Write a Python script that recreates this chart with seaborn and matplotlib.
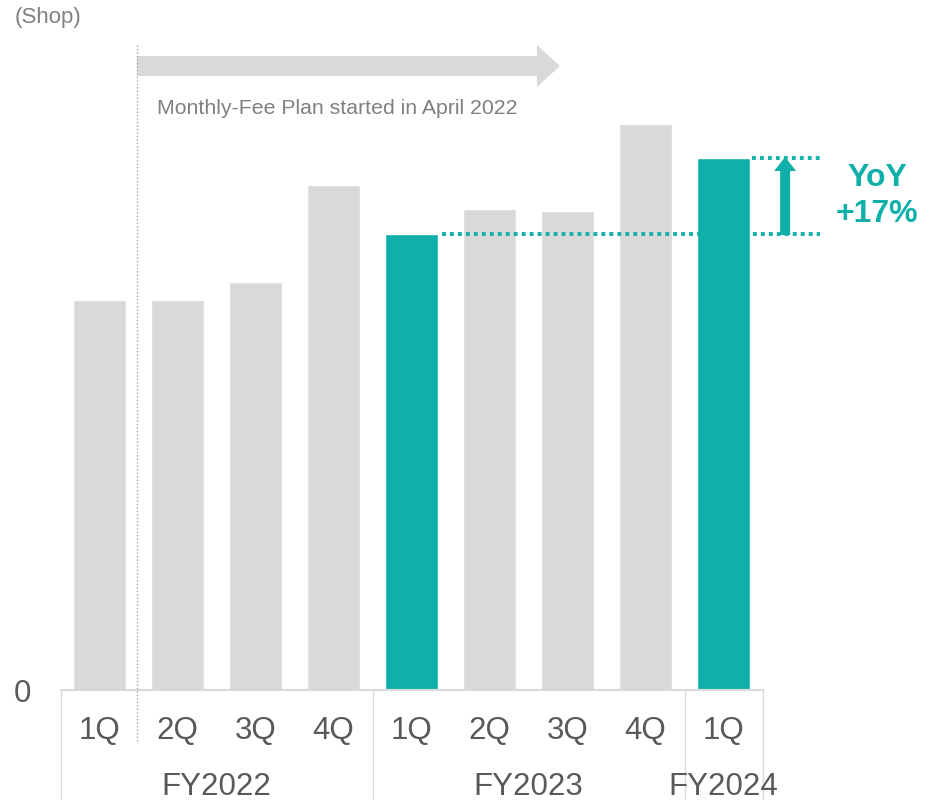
import matplotlib
matplotlib.use("Agg")
import matplotlib.pyplot as plt
import seaborn as sns
import pandas as pd
from matplotlib.patches import Polygon

# ---- data ----
fiscal_years = ["FY2022", "FY2022", "FY2022", "FY2022",
                "FY2023", "FY2023", "FY2023", "FY2023", "FY2024"]
quarters = ["1Q", "2Q", "3Q", "4Q", "1Q", "2Q", "3Q", "4Q", "1Q"]
shops = [390, 390, 408, 505, 456, 481, 479, 566, 532]
highlight = [False, False, False, False, True, False, False, False, True]
fy_labels = ["FY2022", "FY2023", "FY2024"]
yoy_text = "YoY\n+17%"
note_text = "Monthly-Fee Plan started in April 2022"
unit_text = "(Shop)"

GRAY = "#d9d9d9"
TEAL = "#10b0aa"
TXT = "#595959"

sns.set_theme(style="white")
plt.rcParams["font.family"] = ["Liberation Sans", "DejaVu Sans"]

df = pd.DataFrame({
    "key": [f"{f} {q}" for f, q in zip(fiscal_years, quarters)],
    "shops": shops,
    "hl": ["hl" if h else "base" for h in highlight],
})

fig = plt.figure(figsize=(9.34, 8.0), dpi=100)
ax = fig.add_axes([60.5 / 934, 110 / 800, 702 / 934, 690 / 800])

sns.barplot(data=df, x="key", y="shops", hue="hl",
            palette={"hl": TEAL, "base": GRAY}, dodge=False,
            width=0.68, legend=False, ax=ax, saturation=1)

ax.set_xlim(-0.5, 8.5)
ax.set_ylim(0, 690)
ax.set_xlabel("")
ax.set_ylabel("")
for s in ["top", "right", "left"]:
    ax.spines[s].set_visible(False)
ax.spines["bottom"].set_color(GRAY)
ax.spines["bottom"].set_linewidth(1.5)

ax.set_xticks(range(len(quarters)))
ax.set_xticklabels(quarters, fontsize=22.5, color=TXT)
ax.set_yticks([0])
ax.set_yticklabels(["0"], fontsize=22.5, color=TXT)
ax.tick_params(axis="x", length=0, pad=19)
ax.tick_params(axis="y", length=0, pad=21)
ax.grid(False)

# group separators below axis
for xb in [-0.5, 3.5, 7.5, 8.5]:
    ax.plot([xb, xb], [0, -120], color=GRAY, lw=1.0, clip_on=False)

# fiscal-year labels (cut by the bottom edge, as in the reference)
fy_centers = {}
for i, f in enumerate(fiscal_years):
    fy_centers.setdefault(f, []).append(i)
for f in fy_labels:
    xs = fy_centers[f]
    ax.text(sum(xs) / len(xs), -97, f, ha="center", va="center",
            fontsize=22.5, color=TXT, clip_on=False)

# start-of-plan dotted line
ax.plot([0.48, 0.48], [645, -52], color="#a6a6a6", lw=1.0,
        linestyle=(0, (1, 1.5)), clip_on=False)

# big gray arrow
px = 1 / 78.0  # x units per pixel
x0, x1 = 0.48, 0.48 + 423 * px
hl = 23 * px
arrow = Polygon([(x0, 614), (x1 - hl, 614), (x1 - hl, 603), (x1, 624),
                 (x1 - hl, 645), (x1 - hl, 634), (x0, 634)],
                closed=True, facecolor=GRAY, edgecolor="none", clip_on=False)
ax.add_patch(arrow)
ax.text(0.737, 582, note_text, ha="left", va="center", fontsize=15.3,
        color="#808080")

# YoY dotted lines
base_i, cur_i = 4, 8
ax.plot([base_i + 0.39, 9.24], [shops[base_i], shops[base_i]], color=TEAL,
        lw=2.8, linestyle=(0, (1, 1.05)), clip_on=False)
ax.plot([cur_i + 0.37, 9.24], [shops[cur_i], shops[cur_i]], color=TEAL,
        lw=2.8, linestyle=(0, (1, 1.05)), clip_on=False)

# teal up arrow
xa = 8.79
sw, hw, hh = 5 * px, 11 * px, 14
ya, yb = shops[base_i] - 1, shops[cur_i] + 1
up = Polygon([(xa - sw, ya), (xa - sw, yb - hh), (xa - hw, yb - hh), (xa, yb),
              (xa + hw, yb - hh), (xa + sw, yb - hh), (xa + sw, ya)],
             closed=True, facecolor=TEAL, edgecolor="none", clip_on=False)
ax.add_patch(up)
ax.text(9.97, 494, yoy_text, ha="center", va="center", fontsize=23,
        fontweight="bold", color=TEAL, linespacing=1.3, clip_on=False)

fig.text(15 / 934, 1 - 18 / 800, unit_text, ha="left", va="center",
         fontsize=16, color="#808080")

fig.savefig("out.png", dpi=100)
